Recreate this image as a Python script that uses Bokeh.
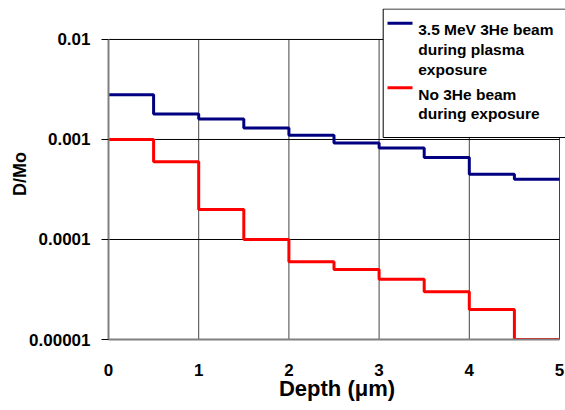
from bokeh.plotting import figure
from bokeh.models import Range1d, FixedTicker, Label, BoxAnnotation
from bokeh.embed import file_html
from bokeh.resources import INLINE

# ---- data ----
depth_edges = [0.0, 0.5, 1.0, 1.5, 2.0, 2.5, 3.0, 3.5, 4.0, 4.5, 5.0]
beam_on = [0.0028, 0.0018, 0.0016, 0.0013, 0.0011, 0.00092, 0.00082, 0.00066, 0.00045, 0.00040]
beam_off = [0.0010, 0.00060, 0.00020, 0.00010, 0.00006, 0.00005, 0.00004, 0.00003, 0.00002, 0.00001]
x_ticks = [0, 1, 2, 3, 4, 5]
x_tick_labels = ["0", "1", "2", "3", "4", "5"]
y_ticks = [1e-5, 1e-4, 1e-3, 1e-2]
y_tick_labels = ["0.00001", "0.0001", "0.001", "0.01"]
legend_beam_on = ["3.5 MeV 3He beam", "during plasma", "exposure"]
legend_beam_off = ["No 3He beam", "during exposure"]
x_title = "Depth (\u03bcm)"
y_title = "D/Mo"

FONT = "Liberation Sans"
BLUE = "#000080"
RED = "#FF0000"

# frame extends a little above 0.01 and right of 5 so the legend box fits in it
p = figure(width=565, height=410, output_backend="svg", toolbar_location=None,
           y_axis_type="log", x_range=Range1d(0, 5.0665), y_range=Range1d(1e-5, 0.0204),
           min_border_left=108, min_border_right=0, min_border_top=8, min_border_bottom=71)
p.outline_line_color = None
p.background_fill_color = "white"
p.border_fill_color = "white"
p.xgrid.visible = False
p.ygrid.visible = False

# grid lines restricted to the plot area (0..5, 1e-5..1e-2)
n_x = len(x_ticks)
n_y = len(y_ticks)
p.segment(x0=x_ticks, x1=x_ticks, y0=[y_ticks[0]] * n_x, y1=[y_ticks[-1]] * n_x,
          line_color="#444444", line_width=1)
p.segment(x0=[x_ticks[0]] * n_y, x1=[x_ticks[-1]] * n_y, y0=y_ticks, y1=y_ticks,
          line_color="black", line_width=1)

# steps (repeat last value to close the final bin)
p.step(x=depth_edges, y=beam_on + [beam_on[-1]], mode="after", line_color=BLUE, line_width=3)
p.step(x=depth_edges, y=beam_off + [beam_off[-1]], mode="after", line_color=RED, line_width=3)

# axes
p.xaxis.ticker = FixedTicker(ticks=x_ticks)
p.xaxis.major_label_overrides = {t: l for t, l in zip(x_ticks, x_tick_labels)}
p.yaxis.ticker = FixedTicker(ticks=y_ticks)
p.yaxis.major_label_overrides = {t: l for t, l in zip(y_ticks, y_tick_labels)}
p.xaxis.bounds = (x_ticks[0], x_ticks[-1])
p.yaxis.bounds = (y_ticks[0], y_ticks[-1])
for ax in (p.xaxis, p.yaxis):
    ax.axis_line_color = "#808080"
    ax.axis_line_width = 2
    ax.major_label_text_font = FONT
    ax.major_label_text_font_style = "bold"
    ax.major_label_text_font_size = "17px"
    ax.major_label_text_color = "black"
    ax.minor_tick_line_color = None
    ax.axis_label_text_font = FONT
    ax.axis_label_text_font_style = "bold"
    ax.axis_label_text_color = "black"
p.xaxis.major_tick_line_color = None
p.xaxis.major_tick_out = 0
p.xaxis.major_tick_in = 0
p.xaxis.major_label_standoff = 24
p.xaxis.axis_label = x_title
p.xaxis.axis_label_text_font_size = "22px"
p.xaxis.axis_label_standoff = -3
p.yaxis.major_tick_line_color = "black"
p.yaxis.major_tick_out = 7
p.yaxis.major_tick_in = 0
p.yaxis.major_label_standoff = 11
p.yaxis.axis_label = y_title
p.yaxis.axis_label_text_font_size = "18px"
p.yaxis.axis_label_standoff = -4

# legend box (coordinates in pixels from frame bottom-left)
p.add_layout(BoxAnnotation(left=274.7, right=470, bottom=202, top=330.5,
                           left_units="screen", right_units="screen",
                           bottom_units="screen", top_units="screen",
                           fill_color="white", fill_alpha=1, line_color="black", line_width=1,
                           line_alpha=1))
for yc, col in ((316.3, BLUE), (251.7, RED)):
    p.add_layout(BoxAnnotation(left=279, right=304, bottom=yc - 1.5, top=yc + 1.5,
                               left_units="screen", right_units="screen",
                               bottom_units="screen", top_units="screen",
                               fill_color=col, fill_alpha=1, line_color=None))
for txt, yb in zip(legend_beam_on, [310, 290, 270.5]):
    p.add_layout(Label(x=309.7, y=yb, x_units="screen", y_units="screen", text=txt,
                       text_font=FONT, text_font_style="bold", text_font_size="15.5px",
                       text_align="left", text_baseline="alphabetic", text_color="black"))
for txt, yb in zip(legend_beam_off, [245, 226]):
    p.add_layout(Label(x=309.7, y=yb, x_units="screen", y_units="screen", text=txt,
                       text_font=FONT, text_font_style="bold", text_font_size="15.5px",
                       text_align="left", text_baseline="alphabetic", text_color="black"))

open("out.html", "w").write(file_html(p, INLINE))
